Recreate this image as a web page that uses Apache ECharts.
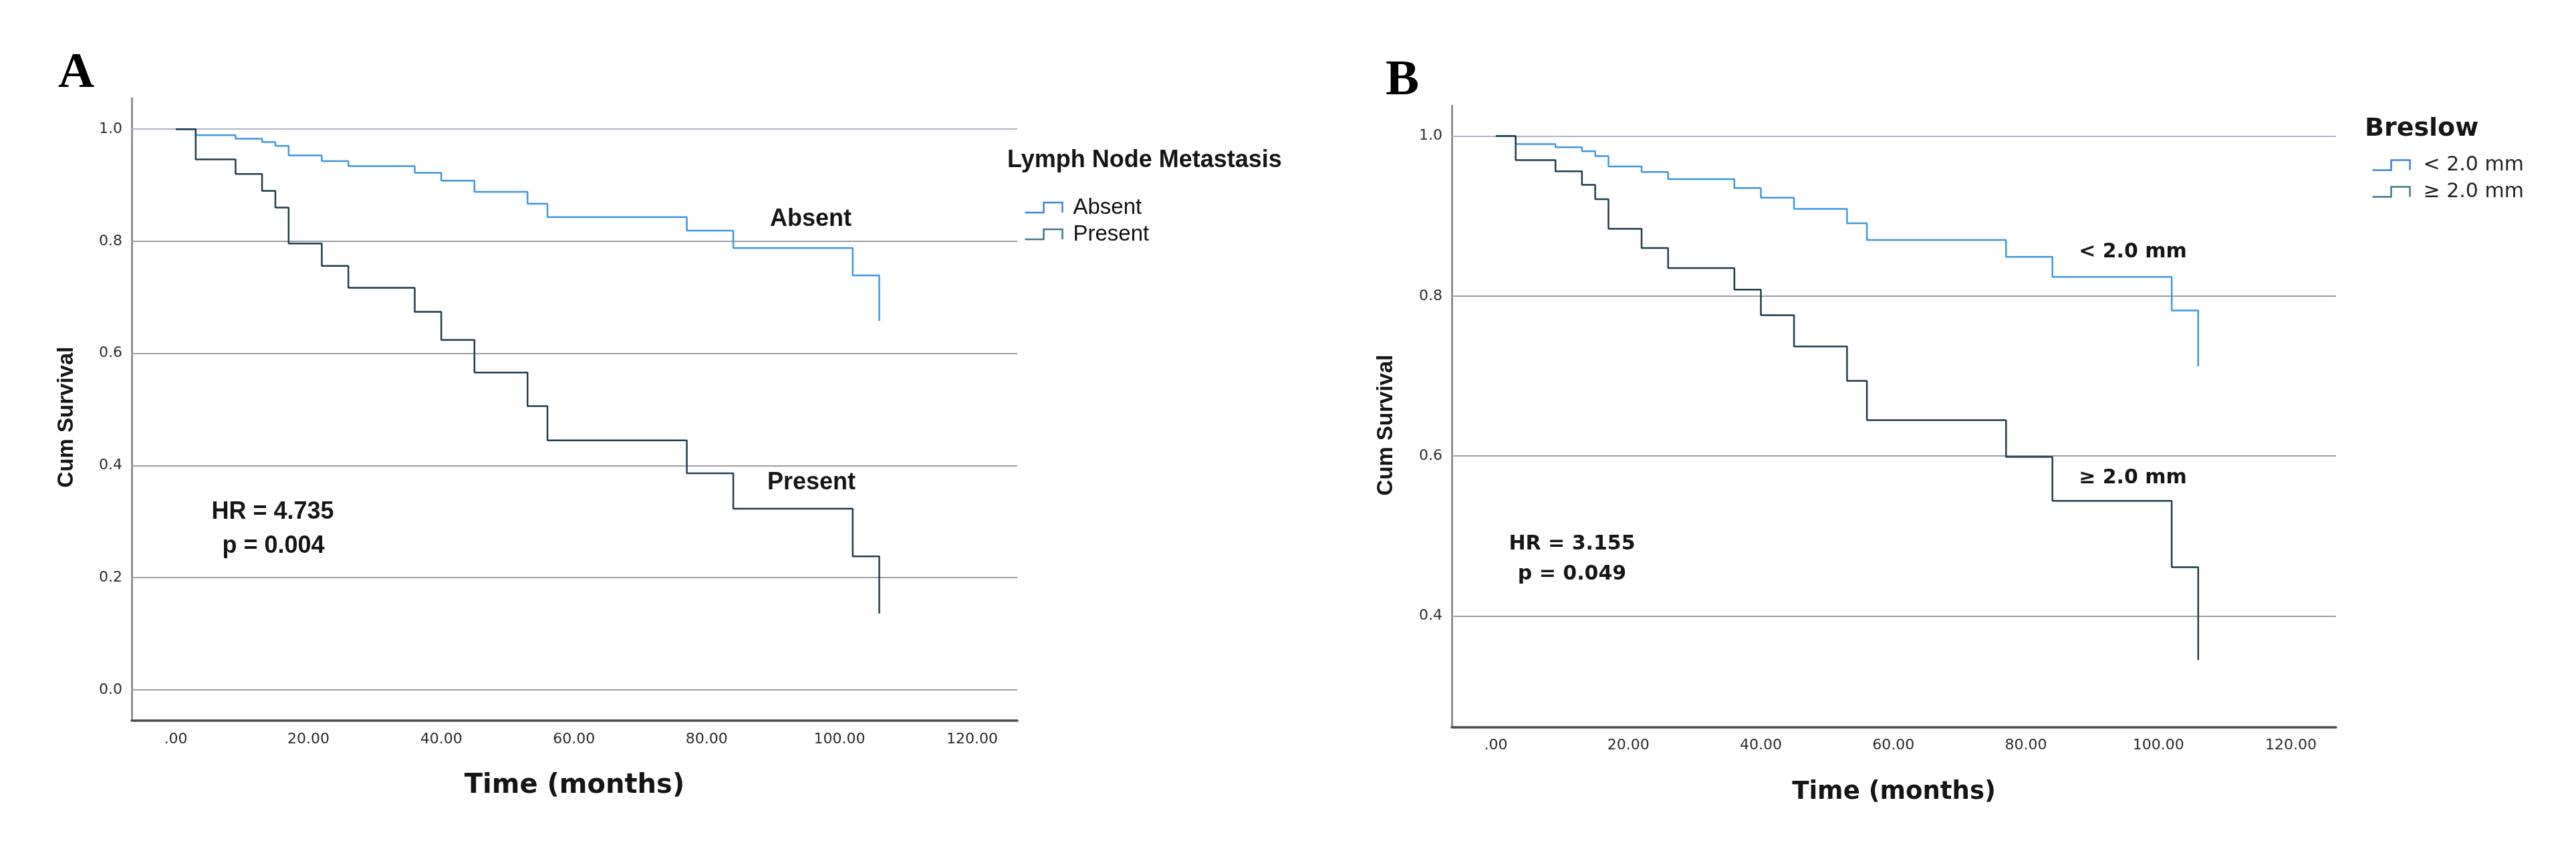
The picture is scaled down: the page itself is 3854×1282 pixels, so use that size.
<!DOCTYPE html>
<html>
<head>
<meta charset="utf-8">
<script src="https://cdn.jsdelivr.net/npm/echarts@6/dist/echarts.min.js"></script>
<style>
html,body{margin:0;padding:0;background:#fff;}
#main{width:3854px;height:1282px;}
</style>
</head>
<body>
<div id="main"></div>
<script>
// event times (months) shared by all four curves
var months = [0, 3, 9, 13, 15, 17, 22, 26, 36, 40, 45, 53, 56, 77, 84, 102, 106];
// panel A : lymph node metastasis
var survAbsent  = [1, 0.989, 0.983, 0.977, 0.970, 0.953, 0.943, 0.934, 0.922, 0.908, 0.888, 0.867, 0.843, 0.819, 0.788, 0.739, 0.658];
var survPresent = [1, 0.946, 0.920, 0.890, 0.860, 0.796, 0.756, 0.717, 0.674, 0.624, 0.566, 0.506, 0.445, 0.386, 0.323, 0.238, 0.136];
// panel B : breslow thickness
var survThin  = [1, 0.990, 0.986, 0.981, 0.975, 0.962, 0.955, 0.946, 0.935, 0.923, 0.909, 0.891, 0.870, 0.849, 0.824, 0.782, 0.712];
var survThick = [1, 0.970, 0.956, 0.939, 0.921, 0.884, 0.860, 0.835, 0.808, 0.776, 0.737, 0.694, 0.645, 0.599, 0.544, 0.461, 0.345];
// tick labels
var timeTicks = [0, 20, 40, 60, 80, 100, 120];
var survTicksA = [0, 0.2, 0.4, 0.6, 0.8, 1.0];
var survTicksB = [0.4, 0.6, 0.8, 1.0];

var LIGHT = '#3c97df', DARK = '#1e3b4c';
var SANS = '"Liberation Sans", Arial, sans-serif';
var DJV = '"DejaVu Sans", sans-serif';

function pairs(ys){
    return months.map(function(m, i){ return [m, ys[i]]; });
}
function gridLines(ticks){
    return ticks.map(function(v){
        return {yAxis: v, lineStyle: {color: v === 1 ? '#b2b2c6' : '#9c9ca4'}};
    });
}
function xAxisOf(idx, margin){
    return {
        type: 'value', gridIndex: idx, min: -6.65, max: 126.8,
        axisLine: {show: true, onZero: false, lineStyle: {color: '#4a4a4a', width: 3.5}},
        axisTick: {show: false},
        splitLine: {show: false},
        axisLabel: {
            customValues: timeTicks, margin: margin, color: '#2a2a2a',
            fontFamily: DJV, fontSize: 22,
            formatter: function(v){ return v === 0 ? '.00' : v.toFixed(2); }
        },
        name: 'Time (months)', nameLocation: 'middle',
        nameGap: idx === 0 ? 98 : 97,
        nameTextStyle: {fontFamily: DJV, fontWeight: 'bold', fontSize: idx === 0 ? 40 : 37,
            color: '#151515', align: 'center', verticalAlign: 'middle'}
    };
}
function yAxisOf(idx, min, max, ticks){
    return {
        type: 'value', gridIndex: idx, min: min, max: max,
        axisLine: {show: true, onZero: false, lineStyle: {color: '#7a7a7a', width: 2.5}},
        axisTick: {show: false},
        splitLine: {show: false},
        axisLabel: {
            customValues: ticks, margin: 14, color: '#2a2a2a',
            fontFamily: DJV, fontSize: 22,
            formatter: function(v){ return v.toFixed(1); }
        }
    };
}
function curve(name, ys, color, idx){
    return {
        name: name, type: 'line', step: 'end', xAxisIndex: idx, yAxisIndex: idx,
        data: pairs(ys), symbol: 'none', color: color,
        lineStyle: {color: color, width: 2.5}, z: 3
    };
}
function gridSeries(idx, ticks){
    return {
        name: 'grid' + idx, type: 'line', xAxisIndex: idx, yAxisIndex: idx, data: [],
        markLine: {
            silent: true, symbol: 'none', z: 1, animation: false,
            label: {show: false},
            lineStyle: {type: 'solid', width: 2},
            data: gridLines(ticks)
        }
    };
}
var stepIcon = 'path://M0,15L28,15L28,0L56,0L56,15';
function legendItem(name, color){
    return {name: name, icon: stepIcon,
        itemStyle: {color: 'none', borderColor: color, borderWidth: 2.5}};
}
function txt(x, y, s, font, opt){
    opt = opt || {};
    return {
        type: 'text', x: x, y: y, rotation: opt.rotation || 0, silent: true,
        style: {text: s, font: font, fill: opt.fill || '#151515',
            align: opt.align || 'left', verticalAlign: 'middle'}
    };
}

var option = {
    animation: false,
    backgroundColor: '#fff',
    grid: [
        {left: 197, top: 147, width: 1325, height: 931},
        {left: 2172, top: 158, width: 1323, height: 930}
    ],
    xAxis: [xAxisOf(0, 17), xAxisOf(1, 16)],
    yAxis: [yAxisOf(0, -0.055, 1.055, survTicksA), yAxisOf(1, 0.261, 1.038, survTicksB)],
    legend: [
        {
            data: [legendItem('Absent', '#3a84dc'), legendItem('Present', '#3e7786')],
            orient: 'vertical', left: 1531, top: 294, padding: 0,
            itemWidth: 78, itemHeight: 15, itemGap: 7, selectedMode: false,
            textStyle: {fontFamily: SANS, fontSize: 33, color: '#111'}
        },
        {
            data: [legendItem('< 2.0 mm', '#3a84dc'), legendItem('≥ 2.0 mm', '#3e7786')],
            orient: 'vertical', left: 3547, top: 232, padding: 0,
            itemWidth: 86, itemHeight: 15, itemGap: 10, selectedMode: false,
            textStyle: {fontFamily: DJV, fontSize: 30, color: '#222'}
        }
    ],
    series: [
        gridSeries(0, survTicksA),
        gridSeries(1, survTicksB),
        curve('Absent', survAbsent, LIGHT, 0),
        curve('Present', survPresent, DARK, 0),
        curve('< 2.0 mm', survThin, LIGHT, 1),
        curve('≥ 2.0 mm', survThick, DARK, 1)
    ],
    graphic: [
        txt(87, 111, 'A', 'bold 75px "Liberation Serif", "Times New Roman", serif', {fill: '#000'}),
        txt(2073, 122, 'B', 'bold 75px "Liberation Serif", "Times New Roman", serif', {fill: '#000'}),
        txt(100, 624, 'Cum Survival', 'bold 33px ' + SANS, {align: 'center', rotation: Math.PI / 2}),
        txt(2074, 636, 'Cum Survival', 'bold 33px ' + SANS, {align: 'center', rotation: Math.PI / 2}),
        txt(408, 766, 'HR = 4.735', 'bold 36px ' + SANS, {align: 'center'}),
        txt(409, 817, 'p = 0.004', 'bold 36px ' + SANS, {align: 'center'}),
        txt(1213, 328, 'Absent', 'bold 36px ' + SANS, {align: 'center'}),
        txt(1214, 722, 'Present', 'bold 36px ' + SANS, {align: 'center'}),
        txt(1507, 240, 'Lymph Node Metastasis', 'bold 36px ' + SANS),
        txt(2352, 814, 'HR = 3.155', 'bold 30px ' + DJV, {align: 'center'}),
        txt(2352, 859, 'p = 0.049', 'bold 30px ' + DJV, {align: 'center'}),
        txt(3191, 377, '< 2.0 mm', 'bold 30px ' + DJV, {align: 'center'}),
        txt(3191, 715, '≥ 2.0 mm', 'bold 30px ' + DJV, {align: 'center'}),
        txt(3538, 193, 'Breslow', 'bold 38px ' + DJV)
    ]
};

var chart = echarts.init(document.getElementById('main'));
chart.setOption(option);
</script>
</body>
</html>
